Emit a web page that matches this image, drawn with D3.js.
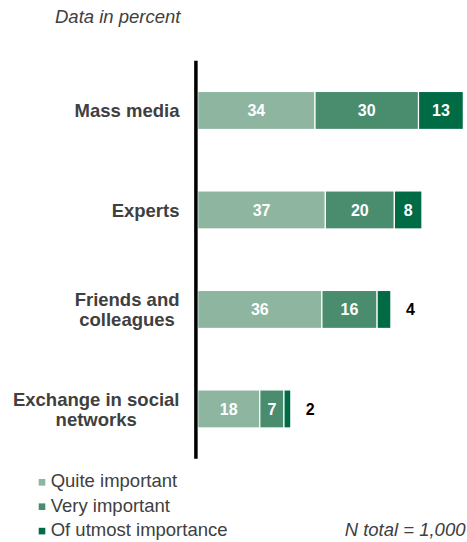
<!DOCTYPE html>
<html>
<head>
<meta charset="utf-8">
<script src="https://cdn.jsdelivr.net/npm/d3@7"></script>
<style>
  html, body { margin: 0; padding: 0; background: #fff; }
  svg { display: block; font-family: "Liberation Sans", Arial, sans-serif; }
</style>
</head>
<body>
<svg id="chart" width="467" height="542"></svg>
<script>
const categories = [
  ["Mass media"],
  ["Experts"],
  ["Friends and", "colleagues"],
  ["Exchange in social", "networks"]
];
const seriesNames = ["Quite important", "Very important", "Of utmost importance"];
const quiteImportant = [34, 37, 36, 18];
const veryImportant = [30, 20, 16, 7];
const utmostImportance = [13, 8, 4, 2];
const colors = ["#8db59f", "#4a8c6e", "#006b44"];

const svg = d3.select("#chart");
const series = [quiteImportant, veryImportant, utmostImportance];
const FS = 18.5;

const x = d3.scaleLinear().domain([0, 100]).range([197.7, 197.7 + 345]);
const y = d3.scaleBand()
  .domain(categories.map((d, i) => i))
  .range([60.7, 458.7])
  .paddingInner(0.618)
  .paddingOuter(0.309);

// title
svg.append("text")
  .attr("x", 55).attr("y", 23)
  .attr("font-size", FS).attr("font-style", "italic")
  .attr("fill", "#404040")
  .text("Data in percent");

// stacked data
const rows = categories.map((c, i) => {
  let acc = 0;
  return series.map((s, k) => {
    const v = s[i];
    const seg = { i, k, v, x0: acc, x1: acc + v };
    acc += v;
    return seg;
  });
}).flat();

svg.append("g").selectAll("rect")
  .data(rows)
  .join("rect")
  .attr("x", d => x(d.x0))
  .attr("y", d => y(d.i))
  .attr("width", d => x(d.x1) - x(d.x0))
  .attr("height", y.bandwidth())
  .attr("fill", d => colors[d.k])
  .attr("stroke", "#fff")
  .attr("stroke-width", 1.2);

// value labels
svg.append("g").selectAll("text")
  .data(rows)
  .join("text")
  .attr("x", d => d.v < 5 ? x(d.x1) + 15 : (x(d.x0) + x(d.x1)) / 2)
  .attr("y", d => y(d.i) + y.bandwidth() / 2)
  .attr("dy", "0.36em")
  .attr("text-anchor", d => d.v < 5 ? "start" : "middle")
  .attr("font-size", 16)
  .attr("font-weight", "bold")
  .attr("fill", d => d.v < 5 ? "#000" : "#fff")
  .text(d => d.v);

// axis line
svg.append("line")
  .attr("x1", 195.9).attr("x2", 195.9)
  .attr("y1", y.range()[0]).attr("y2", y.range()[1])
  .attr("stroke", "#000").attr("stroke-width", 3.5);

// category labels
const catG = svg.append("g");
categories.forEach((lines, i) => {
  const cy = y(i) + y.bandwidth() / 2;
  const lh = 19.8;
  const t = catG.append("text")
    .attr("font-size", FS).attr("font-weight", "bold")
    .attr("fill", "#404040")
    .attr("text-anchor", "middle");
  const n = lines.length;
  const spans = lines.map((l, j) => t.append("tspan")
    .attr("y", cy + (j - (n - 1) / 2) * lh)
    .attr("dy", "0.36em")
    .text(l));
  let maxW = 0;
  spans.forEach(s => { maxW = Math.max(maxW, s.node().getComputedTextLength()); });
  const cx = 179.5 - maxW / 2;
  spans.forEach(s => s.attr("x", cx));
});

// legend
const legend = svg.append("g");
seriesNames.forEach((name, k) => {
  const base = 487.3 + k * 24.4;
  legend.append("rect")
    .attr("x", 38.7).attr("y", base - 8.3)
    .attr("width", 6.6).attr("height", 6.6)
    .attr("fill", colors[k]);
  legend.append("text")
    .attr("x", 50.7).attr("y", base)
    .attr("font-size", FS).attr("fill", "#404040")
    .text(name);
});

svg.append("text")
  .attr("x", 465.5).attr("y", 536)
  .attr("text-anchor", "end")
  .attr("font-size", FS).attr("font-style", "italic")
  .attr("fill", "#404040")
  .text("N total = 1,000");
</script>
</body>
</html>
